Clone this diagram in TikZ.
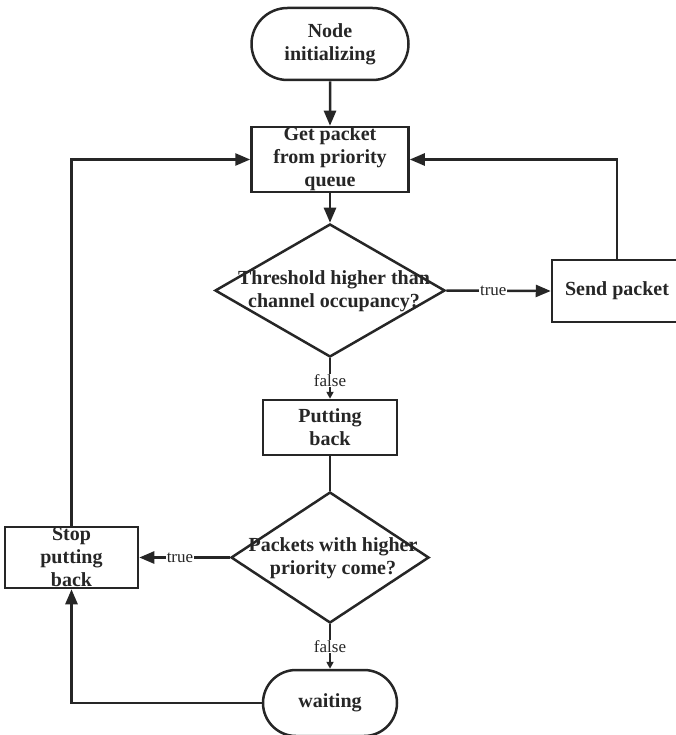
\documentclass[tikz,border=0pt]{standalone}
\usepackage{fontspec}
\setmainfont{Liberation Serif}
\usetikzlibrary{shapes.geometric,shapes.misc,arrows.meta}
\definecolor{ink}{HTML}{262626}
\begin{document}
\begin{tikzpicture}[x=1pt,y=-1pt,
  every node/.style={text=ink},
  line/.style={draw=ink,line width=2.5pt},
  bigarrow/.style={line,-{Triangle[length=15pt,width=12pt]}},
  smallarrow/.style={line,-{Triangle[length=7pt,width=7pt]}},
  boxfont/.style={font=\fontsize{20}{23}\selectfont\bfseries,align=center},
  procbox/.style={line,rectangle,inner sep=0pt},
  termbox/.style={line,rounded rectangle,inner sep=0pt},
  decision/.style={line,diamond,inner sep=0pt},
  boxtext/.style={boxfont,inner sep=0pt},
  lab/.style={font=\fontsize{17}{19}\selectfont,fill=white,inner sep=0.6pt}
]
\useasboundingbox (0,0) rectangle (676,735);

% shapes, main column centred at x = 330
\node[termbox,boxfont,minimum width=157pt,minimum height=72pt] (init) at (330,44) {Node\\initializing};
\node[procbox,minimum width=157pt,minimum height=65pt] (get) at (330,159.5) {};
\node[boxtext] (get-t) at (330,159) {Get packet\\from priority\\queue};
\node[decision,minimum width=230pt,minimum height=133pt] (d1) at (330,290.5) {};
\node[boxtext] (d1-t) at (334,291) {Threshold higher than\\channel occupancy?};
\node[procbox,boxfont,minimum width=130pt,minimum height=62pt] (send) at (617,291) {Send packet};
\node[procbox,boxfont,minimum width=134pt,minimum height=55pt] (put) at (330,427.5) {Putting\\back};
\node[decision,minimum width=198pt,minimum height=131pt] (d2) at (330,557.5) {};
\node[boxtext] (d2-t) at (333,558) {Packets with higher\\priority come?};
\node[procbox,minimum width=133pt,minimum height=61pt] (stop) at (71.5,557.5) {};
\node[boxtext] (stop-t) at (71.5,557) {Stop\\putting\\back};
\node[termbox,boxfont,minimum width=134pt,minimum height=66pt] (wait) at (330,703) {waiting};

% connectors
\draw[bigarrow] (init) -- (get);
\draw[bigarrow] (get) -- (d1);
\draw[bigarrow] (d1.east) -- node[lab,pos=0.45]{true} (send.west);
\draw[bigarrow] (send.north) |- (get.east);
\draw[smallarrow] (d1.south) -- node[lab,pos=0.55]{false} (put.north);
\draw[line] (put.south) -- (d2.north);
\draw[bigarrow] (d2.west) -- node[lab,pos=0.55]{true} (stop.east);
\draw[smallarrow] (d2.south) -- node[lab,pos=0.5]{false} (wait.north);
\draw[bigarrow] (stop.north) |- (get.west);
\draw[bigarrow] (wait.west) -| (stop.south);
\end{tikzpicture}
\end{document}
